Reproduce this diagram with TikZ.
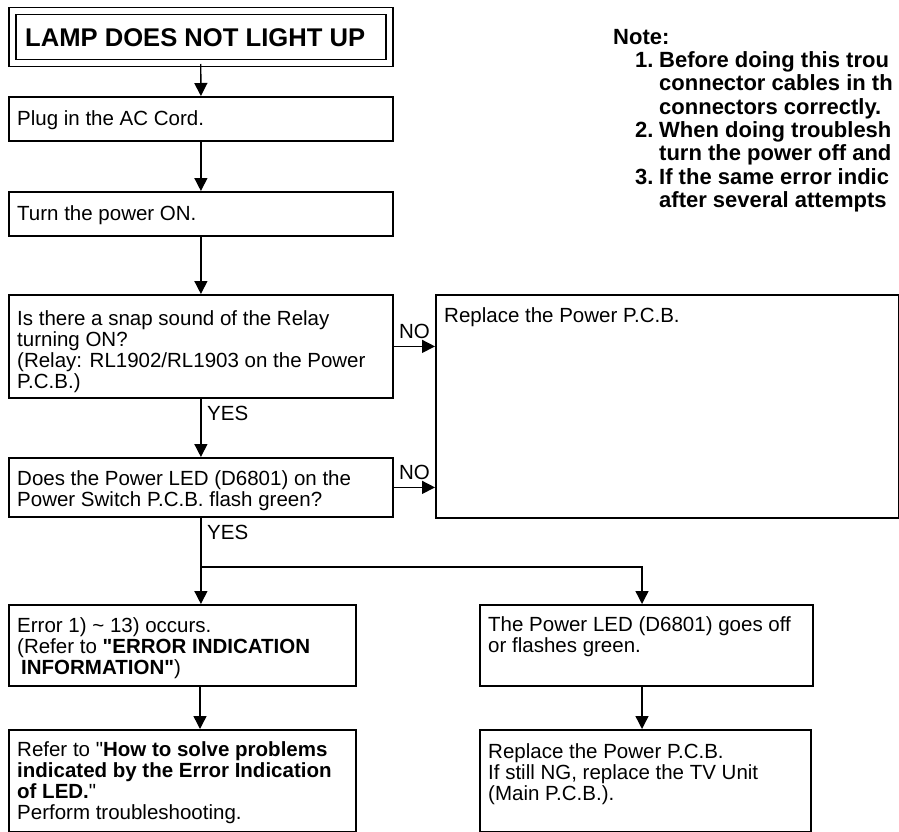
\documentclass[tikz,border=0pt]{standalone}
\usepackage{fontspec}
\setmainfont{Liberation Sans}
\usepackage{tikz}
\usetikzlibrary{arrows.meta}

\newcommand{\bodyfont}{\fontsize{20.5}{21}\selectfont}
\newcommand{\qt}{\XeTeXglyph\XeTeXglyphindex "quotedbl"\relax}

\begin{document}
\begin{tikzpicture}[x=1pt, y=-1pt,
    box/.style={draw, line width=1.8pt, anchor=north west, inner sep=0pt},
    txt/.style={anchor=north west, align=left, inner sep=0pt, font=\bodyfont,
        execute at begin node=\rule{0pt}{15pt}},
    lbl/.style={inner sep=0pt, font=\bodyfont},
    flow/.style={line width=1.4pt, -{Triangle[length=13pt, width=13pt]}}]
    \useasboundingbox (0,0) rectangle (899,832);
    \clip (0,0) rectangle (899,832);
    % title
    \node[box, double, line width=1.5pt, double distance=5.5pt,
        minimum width=377pt, minimum height=52pt] (title) at (11.5,10.5) {};
    \node[anchor=west, inner sep=0pt, font=\bfseries\fontsize{25.6}{26}\selectfont]
        (titletext) at ([xshift=13.5pt]title.west) {LAMP DOES NOT LIGHT UP};
    % main column
    \node[box, minimum width=384pt, minimum height=44pt] (plug) at (8,96) {};
    \node[txt] (plugtext) at ([shift={(9,14)}]plug.north west) {Plug in the AC Cord.};
    \node[box, minimum width=384pt, minimum height=44pt] (turn) at (8,191) {};
    \node[txt] (turntext) at ([shift={(9,14)}]turn.north west) {Turn the power ON.};
    \node[box, minimum width=384pt, minimum height=103pt] (relay) at (8,294) {};
    \node[txt] (relaytext) at ([shift={(9,16)}]relay.north west)
        {Is there a snap sound of the Relay\\turning ON?\\(Relay: RL1902/RL1903 on the Power\\P.C.B.)};
    \node[box, minimum width=384pt, minimum height=59pt] (led) at (8,457) {};
    \node[txt] (ledtext) at ([shift={(9,13)}]led.north west)
        {Does the Power LED (D6801) on the\\Power Switch P.C.B. flash green?};
    \node[box, minimum width=463pt, minimum height=223pt] (repl) at (435,294) {};
    \node[txt] (repltext) at ([shift={(9,13)}]repl.north west) {Replace the Power P.C.B.};
    % lower boxes
    \node[box, minimum width=347pt, minimum height=81pt] (err) at (8,604) {};
    \node[txt] (errtext) at ([shift={(9,13)}]err.north west)
        {Error 1) \textasciitilde{} 13) occurs.\\(Refer to \textbf{\qt ERROR INDICATION}\\\hspace*{4pt}\textbf{INFORMATION\qt})};
    \node[box, minimum width=347pt, minimum height=102pt] (refer) at (8,729) {};
    \node[txt] (refertext) at ([shift={(9,12)}]refer.north west)
        {Refer to \qt\textbf{How to solve problems}\\\textbf{indicated by the Error Indication}\\\textbf{of LED.}\qt\\Perform troubleshooting.};
    \node[box, minimum width=333pt, minimum height=81pt] (off) at (479,604) {};
    \node[txt] (offtext) at ([shift={(9,12)}]off.north west)
        {The Power LED (D6801) goes off\\or flashes green.};
    \node[box, minimum width=331pt, minimum height=102pt] (repl2) at (479,729) {};
    \node[txt] (repl2text) at ([shift={(9,14)}]repl2.north west)
        {Replace the Power P.C.B.\\If still NG, replace the TV Unit\\(Main P.C.B.).};
    % note
    \node[anchor=north west, align=left, inner sep=0pt,
        font=\bfseries\fontsize{22}{23.3}\selectfont,
        execute at begin node=\rule{0pt}{16pt}] (note) at (613,29)
        {Note:\\
        \hspace*{22pt}\makebox[24pt][l]{1.}Before doing this trou\\
        \hspace*{46pt}connector cables in th\\
        \hspace*{46pt}connectors correctly.\\
        \hspace*{22pt}\makebox[24pt][l]{2.}When doing troublesh\\
        \hspace*{46pt}turn the power off and\\
        \hspace*{22pt}\makebox[24pt][l]{3.}If the same error indic\\
        \hspace*{46pt}after several attempts};
    % connectors
    \coordinate (split) at (200,567);
    \coordinate (branch) at (642,567);
    \draw[flow] (title.south) -- (plug.north);
    \draw[flow] (plug.south) -- (turn.north);
    \draw[flow] (turn.south) -- (relay.north);
    \draw[flow] (relay.south) -- (led.north);
    \node[lbl, anchor=west] (yes1) at (207,413) {YES};
    \draw[flow] (relay.east) -- (relay.east -| repl.west)
        node[lbl, midway, above=7pt] (no1) {NO};
    \draw[flow] (led.east) -- (led.east -| repl.west)
        node[lbl, midway, above=7pt] (no2) {NO};
    \draw[flow] (led.south) -- (led.south |- err.north);
    \node[lbl, anchor=west] (yes2) at (207,532) {YES};
    \draw[flow] (split) -- (branch) -- (branch |- off.north);
    \draw[flow] (err.south -| split) -- (refer.north -| split);
    \draw[flow] (off.south -| branch) -- (repl2.north -| branch);
\end{tikzpicture}
\end{document}
